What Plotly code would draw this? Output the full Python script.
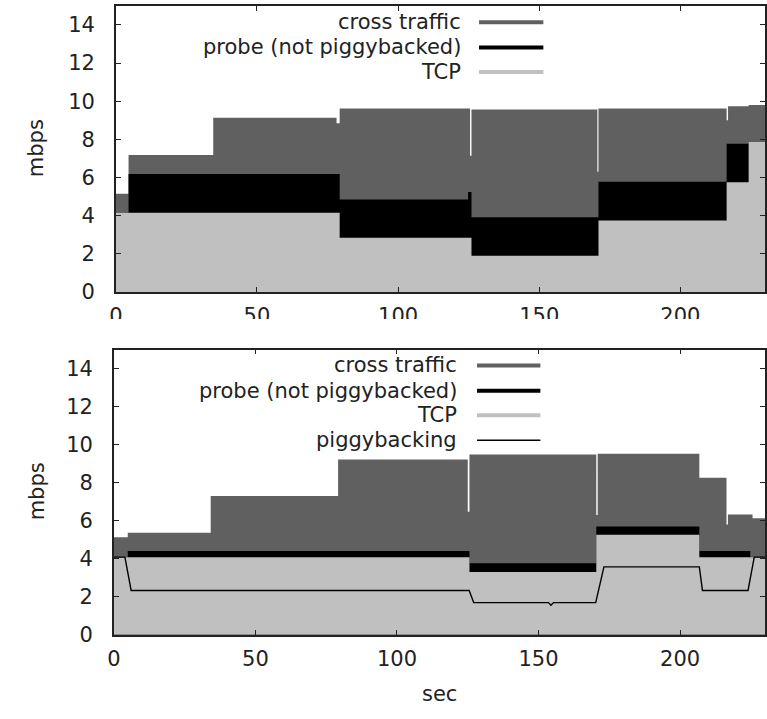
import plotly.graph_objects as go

# ---------------- data ----------------
# top panel: step levels (value holds until next time)
t_top = [0, 4.5, 34.5, 78.2, 79.3, 124.8, 125.5, 126.0, 170.6, 171.0, 216.4, 216.9, 224.2, 230]
tcp_top = [4.16, 4.16, 4.16, 4.16, 2.84, 2.84, 2.84, 1.90, 1.90, 3.75, 5.76, 5.76, 7.87, 7.87]
probe_top_level = [4.16, 6.19, 6.19, 6.19, 4.85, 5.24, 5.24, 3.92, 3.92, 5.78, 7.78, 7.78, 7.87, 7.87]
total_top = [5.15, 7.18, 9.14, 8.85, 9.62, 9.62, 7.15, 9.57, 6.30, 9.62, 9.00, 9.74, 9.80, 9.80]

# bottom panel
t_bot = [0, 4.9, 34.2, 79.2, 125.0, 125.6, 170.4, 170.9, 206.8, 216.4, 216.9, 224.8, 225.6, 230]
tcp_bot = [4.08, 4.08, 4.08, 4.08, 4.08, 3.30, 5.26, 5.26, 4.08, 4.08, 4.08, 4.08, 4.08, 4.08]
probe_bot_level = [4.08, 4.40, 4.40, 4.40, 4.40, 3.76, 5.69, 5.69, 4.40, 4.40, 4.40, 4.08, 4.08, 4.08]
total_bot = [5.13, 5.37, 7.30, 9.22, 6.47, 9.48, 6.30, 9.52, 8.26, 5.80, 6.33, 6.33, 6.13, 6.13]

t_piggy = [0, 3.9, 6.1, 125.5, 127.1, 153.5, 154.4, 155.3, 170.2, 173.1, 206.8, 207.9, 224.0, 226.2, 230]
piggy = [4.08, 4.08, 2.33, 2.33, 1.69, 1.69, 1.55, 1.69, 1.69, 3.57, 3.57, 2.33, 2.33, 4.08, 4.08]

x_ticks = [0, 50, 100, 150, 200]
y_ticks = [0, 2, 4, 6, 8, 10, 12, 14]

C_CROSS = "#606060"
C_PROBE = "#000000"
C_TCP = "#c0c0c0"
FONT = "DejaVu Sans"
TXT = "#222222"

W, H = 767, 719

fig = go.Figure()

def add_panel(t, total, ptop, tcp, xa, ya):
    for vals, col in ((total, C_CROSS), (ptop, C_PROBE), (tcp, C_TCP)):
        fig.add_trace(go.Scatter(
            x=t, y=vals, mode="lines", line=dict(shape="hv", width=0, color=col),
            fill="tozeroy", fillcolor=col, xaxis=xa, yaxis=ya, showlegend=False,
            hoverinfo="skip"))

add_panel(t_top, total_top, probe_top_level, tcp_top, "x", "y")
add_panel(t_bot, total_bot, probe_bot_level, tcp_bot, "x2", "y2")
fig.add_trace(go.Scatter(x=t_piggy, y=piggy, mode="lines",
                         line=dict(color="#000000", width=1.4),
                         xaxis="x2", yaxis="y2", showlegend=False, hoverinfo="skip"))

def px_x(p):
    return p / W

def px_y(p):
    return 1 - p / H

axis_common = dict(showline=True, linecolor="#222222", linewidth=1.5, mirror="allticks",
                   ticks="inside", ticklen=5, tickwidth=1, tickcolor="#222222",
                   showgrid=False, zeroline=False,
                   tickfont=dict(family=FONT, size=21, color=TXT))

fig.update_layout(
    width=W, height=H, margin=dict(l=0, r=0, t=0, b=0),
    paper_bgcolor="white", plot_bgcolor="white",
    xaxis=dict(domain=[px_x(110), px_x(766)], range=[0, 230], anchor="y",
               tickvals=x_ticks, ticklabelstandoff=4, **axis_common),
    yaxis=dict(domain=[px_y(297), px_y(6)], range=[0, 15], anchor="x",
               tickvals=y_ticks, ticklabelstandoff=15, **axis_common),
    xaxis2=dict(domain=[px_x(108), px_x(766)], range=[0, 230], anchor="y2",
                tickvals=x_ticks, ticklabelstandoff=4, **axis_common),
    yaxis2=dict(domain=[px_y(645.5), px_y(355.5)], range=[0, 15], anchor="x2",
                tickvals=y_ticks, ticklabelstandoff=15, **axis_common),
)

shapes = []
annotations = []

# cut-off of the upper panel's x tick labels
shapes.append(dict(type="rect", xref="paper", yref="paper", x0=0, x1=1,
                   y0=px_y(354), y1=px_y(324.5), fillcolor="white", line=dict(width=0),
                   layer="above"))

# legends (text on the left, sample on the right)
top_legend = [("cross traffic", C_CROSS, 4, 22.7),
              ("probe (not piggybacked)", C_PROBE, 4, 48.3),
              ("TCP", C_TCP, 4, 73.3)]
bot_legend = [("cross traffic", C_CROSS, 4, 371.7),
              ("probe (not piggybacked)", C_PROBE, 4, 397.3),
              ("TCP", C_TCP, 4, 422.3),
              ("piggybacking", "#000000", 1.4, 447.7)]

for items, xt, xl0, xl1 in ((top_legend, 461, 477, 542), (bot_legend, 457, 475, 539)):
    for name, col, lw, yy in items:
        annotations.append(dict(text=name, xref="paper", yref="paper", x=px_x(xt), y=px_y(yy),
                                xanchor="right", yanchor="middle", showarrow=False,
                                font=dict(family=FONT, size=21, color=TXT)))
        shapes.append(dict(type="line", xref="paper", yref="paper", x0=px_x(xl0), x1=px_x(xl1),
                           y0=px_y(yy), y1=px_y(yy), line=dict(color=col, width=lw),
                           layer="above"))

# axis titles
for yy in (151, 500):
    annotations.append(dict(text="mbps", xref="paper", yref="paper", x=px_x(30), y=px_y(yy),
                            xanchor="center", yanchor="middle", showarrow=False, textangle=-90,
                            font=dict(family=FONT, size=21, color=TXT)))
annotations.append(dict(text="sec", xref="paper", yref="paper", x=px_x(437), y=px_y(706),
                        xanchor="center", yanchor="middle", showarrow=False,
                        font=dict(family=FONT, size=21, color=TXT)))

fig.update_layout(shapes=shapes, annotations=annotations)
fig.write_html("out.html")
